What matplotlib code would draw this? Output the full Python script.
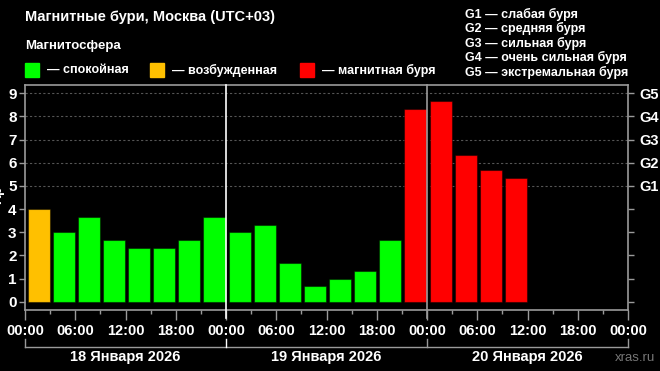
import matplotlib.pyplot as plt
from matplotlib.transforms import blended_transform_factory
from matplotlib.patches import Rectangle

# Kp index per 3-hour interval, 18.01.2026 00:00 onward (UTC+03)
kp_values = [4.0, 3.0, 3.67, 2.67, 2.33, 2.33, 2.67, 3.67,
             3.0, 3.33, 1.67, 0.67, 1.0, 1.33, 2.67, 8.33,
             8.67, 6.33, 5.67, 5.33]
kp_hours = [3 * i for i in range(len(kp_values))]
time_labels = ["00:00", "06:00", "12:00", "18:00"] * 3 + ["00:00"]
day_labels = ["18 Января 2026", "19 Января 2026", "20 Января 2026"]
g_labels = ["G1", "G2", "G3", "G4", "G5"]
g_texts = ["G1 — слабая буря", "G2 — средняя буря", "G3 — сильная буря",
           "G4 — очень сильная буря", "G5 — экстремальная буря"]
legend_labels = ["— спокойная", "— возбужденная", "— магнитная буря"]

GREEN, ORANGE, RED = "#00ff00", "#ffc000", "#ff0000"
GREY = "#9a9a9a"


def kp_color(v):
    if v >= 5:
        return RED
    if v >= 4:
        return ORANGE
    return GREEN


plt.rcParams['font.family'] = ['Liberation Sans', 'DejaVu Sans']
plt.rcParams['font.weight'] = 'bold'

fig = plt.figure(figsize=(6.6, 3.71), dpi=100, facecolor='black')
ax = fig.add_axes([25 / 660, 61 / 371, 603 / 660, 225 / 371])
ax.set_facecolor('black')

ax.bar([h + 0.3 for h in kp_hours], kp_values, width=2.65, align='edge',
       color=[kp_color(v) for v in kp_values],
       edgecolor=(0, 0, 0, 0.45), linewidth=0.8, zorder=2)

ax.set_xlim(0, 72)
ax.set_ylim(-0.35, 9.35)

# storm level grid
for lvl in range(5, 10):
    ax.axhline(lvl, color='#555555', linestyle=(0, (2, 2)), linewidth=0.8, zorder=1)

# day separators
ax.axvline(24, ymin=-0.036, ymax=1, color='white', linewidth=1.2, clip_on=False, zorder=3)
ax.axvline(48, ymin=-0.036, ymax=1, color=GREY, linewidth=1.2, clip_on=False, zorder=3)

for s in ax.spines.values():
    s.set_color(GREY)
    s.set_linewidth(1.2)

ax.set_xticks(range(0, 73, 6))
ax.set_xticklabels(time_labels)
ax.set_xticks(range(0, 73, 3), minor=True)
ax.tick_params(axis='x', which='major', length=7, width=1, color=GREY,
               labelcolor='white', labelsize=10.5, pad=3)
ax.tick_params(axis='x', which='minor', length=3, width=1, color=GREY)
ax.set_yticks(range(0, 10))
ax.tick_params(axis='y', length=4, width=1, color=GREY, labelcolor='white',
               labelsize=11, pad=2)

ax2 = ax.twinx()
ax2.set_ylim(ax.get_ylim())
ax2.set_yticks(range(0, 10))
ax2.set_yticklabels([""] * 5 + g_labels)
ax2.tick_params(axis='y', length=4, width=1, color=GREY, labelcolor='white',
                labelsize=10.5, pad=4)
for s in ax2.spines.values():
    s.set_visible(False)

# day brackets under the time axis
tr = blended_transform_factory(ax.transData, ax.transAxes)
ax.plot([0, 72], [-0.165, -0.165], color=GREY, linewidth=1, transform=tr, clip_on=False)
for d in range(4):
    ax.plot([24 * d, 24 * d], [-0.165, -0.13], color='white' if d == 1 else GREY,
            linewidth=1, transform=tr, clip_on=False)
for d, lab in enumerate(day_labels):
    ax.text(24 * d + 12, -0.208, lab, transform=tr, ha='center', va='center',
            color='white', fontsize=10.5, fontweight='bold')

fig.text(655 / 660, 1 - 358 / 371, "xras.ru", ha='right', va='center',
         color='#777777', fontsize=9.5, fontweight='normal')

# titles and legends
fig.text(25 / 660, 1 - 17 / 371, "Магнитные бури, Москва (UTC+03)", color='white',
         fontsize=10.5, fontweight='bold', va='center')
fig.text(25 / 660, 1 - 46 / 371, "Магнитосфера", color='white',
         fontsize=9.5, fontweight='bold', va='center')
for x0, col, lab in zip([25, 150, 300], [GREEN, ORANGE, RED], legend_labels):
    fig.patches.append(Rectangle((x0 / 660, 1 - 77 / 371), 14 / 660, 14 / 371,
                                 transform=fig.transFigure, color=col))
    fig.text((x0 + 22) / 660, 1 - 70 / 371, lab, color='white', fontsize=9,
             fontweight='bold', va='center')

for i, t in enumerate(g_texts):
    fig.text(465 / 660, 1 - (14 + 14.5 * i) / 371, t, color='white', fontsize=9,
             fontweight='bold', va='center')

# axis name, partly cut by the left edge as in the original
fig.text(-3 / 660, 1 - 195 / 371, "Kp", rotation=90, color='white', fontsize=10,
         fontweight='bold', ha='center', va='center')

fig.savefig("out.png", dpi=100, facecolor='black')
